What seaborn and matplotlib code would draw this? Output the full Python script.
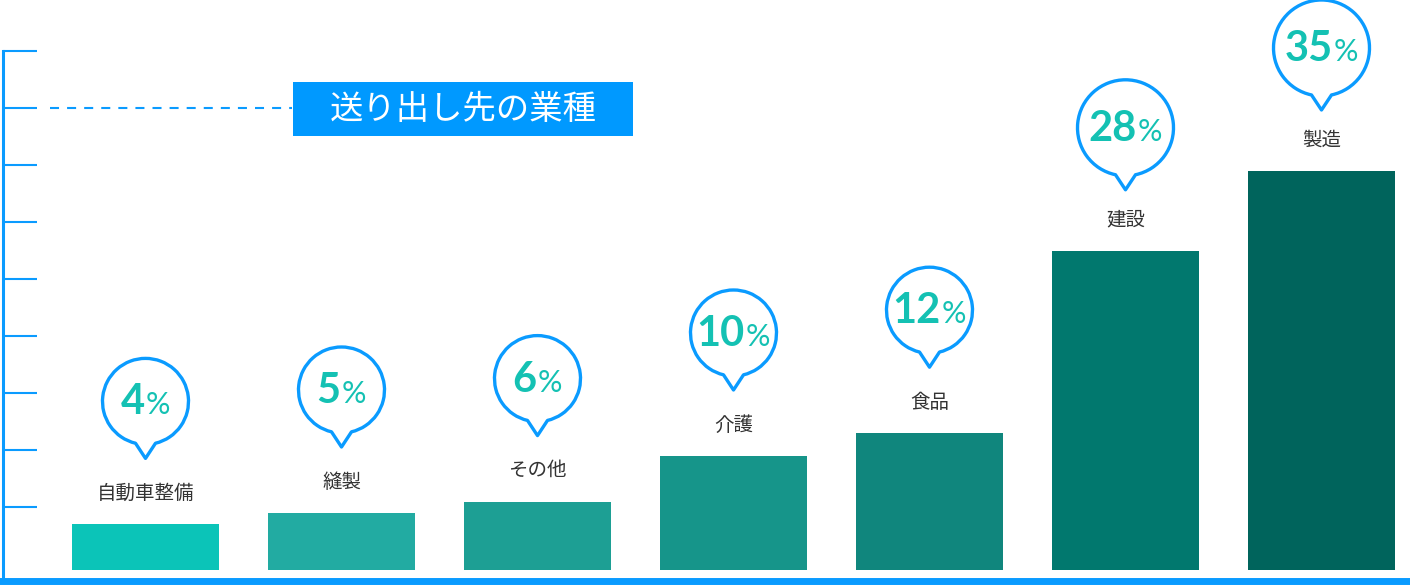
import matplotlib
matplotlib.use("Agg")
import matplotlib.pyplot as plt
import matplotlib.transforms as mtransforms
from matplotlib.path import Path
from matplotlib.patches import PathPatch, Rectangle
from matplotlib.offsetbox import TextArea, HPacker, AnnotationBbox
from matplotlib.lines import Line2D
import numpy as np
import seaborn as sns

# データ
categories = ['自動車整備', '縫製', 'その他', '介護', '食品', '建設', '製造']
values = [4, 5, 6, 10, 12, 28, 35]
bar_colors = ['#0bc4b8', '#22aba2', '#1d9f94', '#16958a', '#10867d', '#01786e', '#00645c']
tick_values = [5.5, 10.5, 15.5, 20.5, 25.5, 30.5, 35.5, 40.5, 45.5]
title = '送り出し先の業種'

blue = '#0a9bff'
teal_text = '#14c1b3'
jp_font = ['Noto Sans CJK JP', 'DejaVu Sans']

plt.rcParams['lines.scale_dashes'] = False

W, H = 1410, 585
fig = plt.figure(figsize=(W / 100, H / 100), dpi=100)
ax = fig.add_axes([0, 0, 1, 1])

sns.barplot(x=categories, y=values, hue=categories, palette=bar_colors,
            width=0.75, saturation=1, legend=False, linewidth=0, ax=ax)

# 1% = 11.4px, 0 は上から 570px
ax.set_ylim(-15 / 11.4, 570 / 11.4)
ax.set_xlim(-145.5 / 196, (W - 145.5) / 196)
ax.set_xlabel('')
ax.set_ylabel('')

for s in ['top', 'right']:
    ax.spines[s].set_visible(False)
ax.spines['left'].set_position(('axes', 3 / W))
ax.spines['left'].set_color(blue)
ax.spines['left'].set_linewidth(2.2)
ax.spines['left'].set_bounds(-1.0, tick_values[-1])
ax.spines['bottom'].set_position(('data', -1.0))
ax.spines['bottom'].set_color(blue)
ax.spines['bottom'].set_linewidth(5)

ax.set_yticks(tick_values)
ax.tick_params(axis='y', direction='in', length=24.5, width=1.5, color=blue, labelleft=False)
ax.tick_params(axis='x', length=0, labelbottom=False)

# 吹き出しとラベル
for i, (cat, v) in enumerate(zip(categories, values)):
    r = 48 if v > 20 else 43
    cy = 123
    half = np.degrees(np.arcsin(10 / r))
    arc = Path.arc(-90 + half, 270 - half)
    verts = list(arc.vertices * r + np.array([0, cy]))
    codes = list(arc.codes)
    verts += [(0, cy - r - 14), verts[0]]
    codes += [Path.LINETO, Path.CLOSEPOLY]
    trans = mtransforms.Affine2D() + mtransforms.ScaledTranslation(i, v, ax.transData)
    bubble = PathPatch(Path(verts, codes), facecolor='white', edgecolor=blue,
                       linewidth=2.4, joinstyle='round', transform=trans, clip_on=False, zorder=3)
    ax.add_patch(bubble)

    num = TextArea(str(v), textprops=dict(fontsize=30, fontweight='bold', family='Lato', color=teal_text))
    pct = TextArea('%', textprops=dict(fontsize=22, family='Lato', color=teal_text))
    box = HPacker(children=[num, pct], align='baseline', pad=0, sep=0.8)
    ab = AnnotationBbox(box, (i, v), xybox=(0, cy - 1), xycoords='data', boxcoords='offset pixels',
                        frameon=False, box_alignment=(0.5, 0.5), zorder=4)
    ax.add_artist(ab)

    ax.annotate(cat, xy=(i, v), xytext=(0, 31), textcoords='offset pixels',
                ha='center', va='center', fontsize=14, family=jp_font, color='#333333')

# タイトルボックス(ピクセル座標、上から)
px = mtransforms.Affine2D().scale(1 / W, -1 / H).translate(0, 1) + fig.transFigure
fig.add_artist(Line2D([50, 292], [108, 108], color=blue, linewidth=1.5,
                      linestyle=(0, (6.5, 5.8)), transform=px))
fig.add_artist(Rectangle((293, 82), 340, 54, facecolor='#0099ff', edgecolor='none', transform=px))
fig.text(463, 110, title, transform=px, ha='center', va='center', fontsize=24,
         family=jp_font, fontweight='normal', color='white')

fig.savefig('out.png', dpi=100, facecolor='white')
